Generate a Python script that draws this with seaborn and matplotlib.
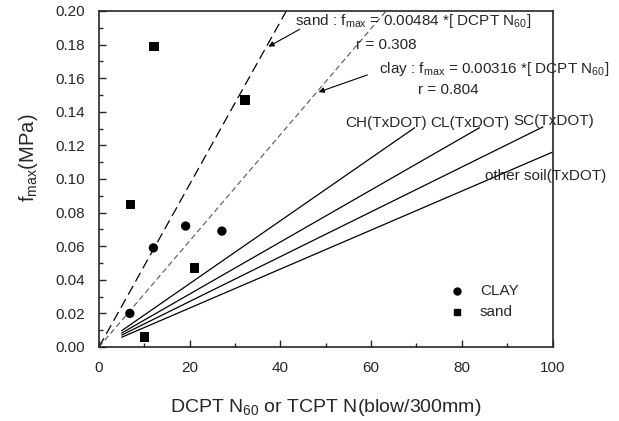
import matplotlib
matplotlib.use("Agg")
import matplotlib.pyplot as plt
import seaborn as sns
import pandas as pd
from matplotlib.ticker import MultipleLocator

# ---- data ----
clay_n = [6.8, 12.0, 19.1, 27.1]
clay_f = [0.020, 0.059, 0.072, 0.069]
sand_n = [12.1, 32.2, 7.0, 21.1, 10.1]
sand_f = [0.179, 0.147, 0.085, 0.047, 0.006]

sand_fit_n = [0, 41.3]
sand_fit_f = [0.0, 0.2]
clay_fit_n = [0, 63.3]
clay_fit_f = [0.0, 0.2]

txdot_names = ["CH(TxDOT)", "CL(TxDOT)", "SC(TxDOT)", "other soil(TxDOT)"]
txdot_n = [[5, 69.6], [5, 83.9], [5, 97.9], [5, 100]]
txdot_f = [[0.0097, 0.1305], [0.0083, 0.1305], [0.0071, 0.131], [0.0058, 0.116]]

sns.set_style("ticks")
plt.rcParams["font.family"] = ["Liberation Sans", "DejaVu Sans"]
plt.rcParams["mathtext.fontset"] = "custom"
plt.rcParams["mathtext.rm"] = "Liberation Sans"
plt.rcParams["mathtext.it"] = "Liberation Sans"

W, H = 619, 421
L, R, T, B = 99, 552.5, 11, 347
fig = plt.figure(figsize=(W/100, H/100), dpi=100)
ax = fig.add_axes([L/W, 1-B/H, (R-L)/W, (B-T)/H])

pts = pd.DataFrame({
    "n": clay_n + sand_n,
    "f": clay_f + sand_f,
    "type": ["CLAY"] * len(clay_n) + ["sand"] * len(sand_n),
})
sns.scatterplot(data=pts, x="n", y="f", style="type", markers={"CLAY": "o", "sand": "s"},
                color="black", s=45, edgecolor="black", linewidth=0, ax=ax, legend=False, zorder=5)

sns.lineplot(x=sand_fit_n, y=sand_fit_f, ax=ax, color="black", lw=0.9)
ax.lines[-1].set_dashes([8, 4])
sns.lineplot(x=clay_fit_n, y=clay_fit_f, ax=ax, color="#555555", lw=0.8)
ax.lines[-1].set_dashes([5, 3])
for nn, ff in zip(txdot_n, txdot_f):
    sns.lineplot(x=nn, y=ff, ax=ax, color="black", lw=0.9)

ax.set_xlim(0, 100)
ax.set_ylim(0, 0.20)
ax.xaxis.set_major_locator(MultipleLocator(20))
ax.xaxis.set_minor_locator(MultipleLocator(10))
ax.yaxis.set_major_locator(MultipleLocator(0.02))
ax.yaxis.set_minor_locator(MultipleLocator(0.01))
ax.yaxis.set_major_formatter(matplotlib.ticker.FormatStrFormatter("%.2f"))
ax.tick_params(which="major", direction="in", length=5, width=1, labelsize=11, pad=10)
ax.tick_params(which="minor", direction="in", length=3, width=1)
for sp in ax.spines.values():
    sp.set_linewidth(1.2)

ax.set_xlabel(r"DCPT N$_{60}$ or TCPT N(blow/300mm)", fontsize=14, va="center")
ax.xaxis.set_label_coords(0.5, (B - 408) / (B - T))
ax.set_ylabel(r"f$_{\rm max}$(MPa)", fontsize=14.5, va="center")
ax.yaxis.set_label_coords((29 - L) / (R - L), (B - 158) / (B - T))

def fp(xp, yp):
    return (xp / W, 1 - yp / H)

tkw = dict(fontsize=11, transform=fig.transFigure)
fig.text(*fp(295, 21), r"sand : f$_{\rm max}$ = 0.00484 *[ DCPT N$_{60}$]", va="center", **tkw)
fig.text(*fp(356, 45), "r = 0.308", va="center", **tkw)
fig.text(*fp(379, 69), r"clay : f$_{\rm max}$ = 0.00316 *[ DCPT N$_{60}$]", va="center", **tkw)
fig.text(*fp(418, 90), "r = 0.804", va="center", **tkw)
fig.text(*fp(345, 123), txdot_names[0], va="center", **tkw)
fig.text(*fp(430, 123), txdot_names[1], va="center", **tkw)
fig.text(*fp(513, 121), txdot_names[2], va="center", **tkw)
fig.text(*fp(485, 176), txdot_names[3], va="center", **tkw)

akw = dict(xycoords="figure fraction", textcoords="figure fraction")
ax.annotate("", xy=fp(266, 48), xytext=fp(302, 28),
            arrowprops=dict(arrowstyle="-|>", color="black", lw=0.8, mutation_scale=8), **akw)
ax.annotate("", xy=fp(316, 93), xytext=fp(370, 74),
            arrowprops=dict(arrowstyle="-|>", color="black", lw=0.8, mutation_scale=8), **akw)

# legend
fig.lines.append(plt.Line2D([fp(457, 291)[0]], [fp(457, 291)[1]], marker="o", color="black",
                            ms=5, transform=fig.transFigure))
fig.lines.append(plt.Line2D([fp(457, 312)[0]], [fp(457, 312)[1]], marker="s", color="black",
                            ms=5, transform=fig.transFigure))
fig.text(*fp(480, 291), "CLAY", va="center", **tkw)
fig.text(*fp(480, 312), "sand", va="center", **tkw)

fig.savefig("out.png", dpi=100)
